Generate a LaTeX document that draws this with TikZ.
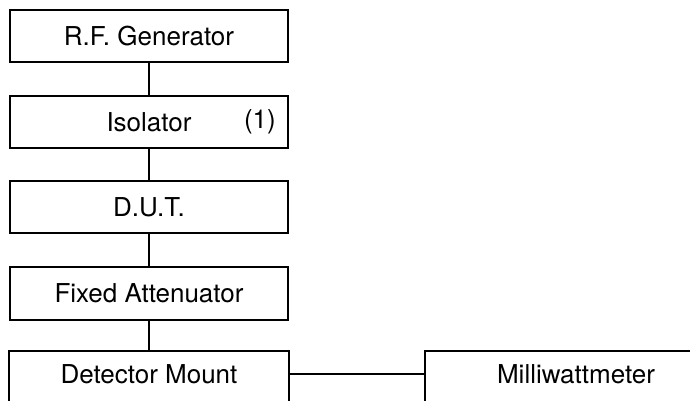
\documentclass[tikz,border=0pt]{standalone}
\usepackage{fontspec}
\setmainfont{TeX Gyre Heros}
\begin{document}
\begin{tikzpicture}[x=1pt,y=-1pt,
  boxline/.style={line width=2pt, line join=miter},
  unit/.style={rectangle, boxline, minimum width=278pt, minimum height=52pt,
    inner sep=0pt, font=\fontsize{26}{30}\selectfont},
  link/.style={line width=2pt}]
\useasboundingbox (0,0) rectangle (690,400);
\clip (0,0) rectangle (690,400);

% measurement chain
\node[unit, draw] (rf)  at (149,36)  {R.F. Generator};
\node[unit, draw, label={[anchor=east,inner sep=0pt,xshift=-13pt,font=\fontsize{26}{30}\selectfont]east:(1)}] (iso) at (149,122) {Isolator};
\node[unit, draw] (dut) at (149,207) {D.U.T.};
\node[unit, draw, minimum height=53pt] (att) at (149,293.5) {Fixed Attenuator};

% open-bottomed boxes running off the sheet
\node[unit, minimum height=44pt, minimum width=278pt] (det) at (149,374) {Detector Mount};
\node[unit, minimum height=44pt, minimum width=300pt] (mw)  at (576,374) {Milliwattmeter};
\draw[boxline] ([yshift=-30pt]det.south west) |- (det.north east) -- ([yshift=-30pt]det.south east);
\draw[boxline] ([yshift=-30pt]mw.south west) |- ([xshift=20pt]mw.north east);

% connections
\draw[link] (rf.south)  -- (iso.north);
\draw[link] (iso.south) -- (dut.north);
\draw[link] (dut.south) -- (att.north);
\draw[link] (att.south) -- (att.south |- det.north);
\draw[link] (det.east)  -- (mw.west);
\end{tikzpicture}
\end{document}
